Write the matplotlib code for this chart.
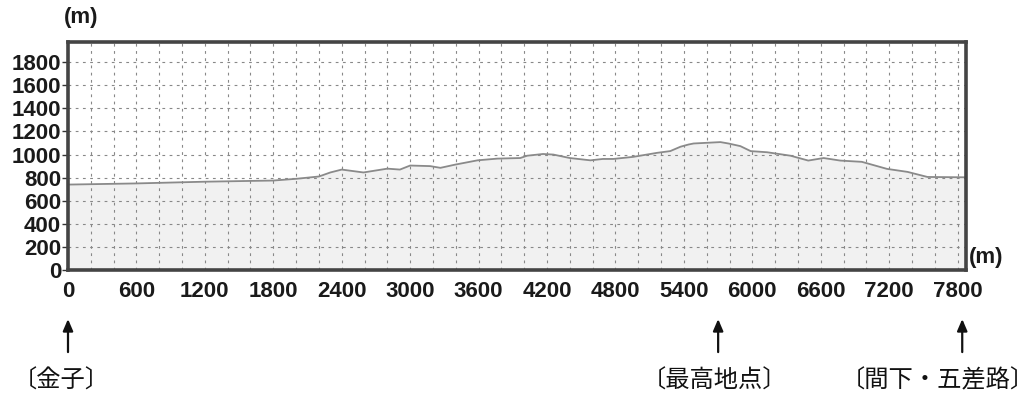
import matplotlib
matplotlib.use("Agg")
import matplotlib.pyplot as plt

# distance along route (m) and elevation (m)
dist = [0, 600, 1200, 1800, 2000, 2200, 2300, 2400, 2590, 2800, 2910, 3000, 3175,
        3265, 3395, 3590, 3765, 3965, 4025, 4165, 4255, 4400, 4580, 4690, 4780,
        4955, 5165, 5280, 5370, 5440, 5485, 5720, 5790, 5895, 5985, 6130, 6335,
        6490, 6625, 6770, 6960, 7180, 7360, 7535, 7870]
elev = [740, 750, 765, 775, 790, 810, 845, 870, 845, 878, 870, 905, 900,
        885, 913, 950, 965, 970, 990, 1005, 1000, 970, 950, 962, 962,
        980, 1015, 1030, 1068, 1087, 1096, 1108, 1096, 1073, 1030, 1020, 990,
        948, 970, 948, 937, 876, 850, 806, 803]

xticks = list(range(0, 7801, 600))
yticks = list(range(0, 1801, 200))
points = [0, 5700, 7840]
point_labels = ["〔金子〕", "〔最高地点〕", "〔間下・五差路〕"]
label_x = [-60, 5670, 7630]

fig = plt.figure(figsize=(10.35, 3.99), dpi=100)
ax = fig.add_axes([0.0657, 0.3233, 0.8673, 0.5714])

ax.fill_between(dist, elev, 0, color="#f1f1f1", zorder=1)
ax.plot(dist, elev, color="#8a8a8a", lw=1.3, zorder=3)

ax.set_xlim(0, 7870)
ax.set_ylim(0, 1975)

for gx in range(200, 7870, 200):
    ax.axvline(gx, color="#888888", lw=0.8, ls=(0, (2.5, 4)), zorder=2)
for gy in range(200, 1975, 200):
    ax.axhline(gy, color="#888888", lw=0.8, ls=(0, (2.5, 4)), zorder=2)

ax.set_xticks(xticks)
ax.set_xticklabels([str(v) for v in xticks])
ax.set_yticks(yticks)
ax.set_yticklabels([str(v) for v in yticks])
ax.tick_params(axis="x", length=0, pad=8)
ax.tick_params(axis="y", length=4, width=1, pad=1, color="#333333")
for lab in ax.get_xticklabels() + ax.get_yticklabels():
    lab.set_fontfamily("Liberation Sans")
    lab.set_fontweight("bold")
    lab.set_fontsize(16)
    lab.set_color("#1a1a1a")

for sp in ax.spines.values():
    sp.set_linewidth(2.6)
    sp.set_color("#444444")
    sp.set_zorder(5)

fig.text(81 / 1035, 1 - 18 / 399, "(m)", ha="center", va="center",
         fontfamily="Liberation Sans", fontweight="bold", fontsize=16, color="#1a1a1a")
fig.text(969 / 1035, 1 - 257 / 399, "(m)", ha="left", va="center",
         fontfamily="Liberation Sans", fontweight="bold", fontsize=16, color="#1a1a1a")

tr = ax.get_xaxis_transform()
for px, lx, lab in zip(points, label_x, point_labels):
    ax.annotate("", xy=(px, -0.215), xytext=(px, -0.36), xycoords=tr, textcoords=tr,
                arrowprops=dict(arrowstyle="-|>,head_length=0.7,head_width=0.3",
                                color="#111111", lw=1.6, shrinkA=0, shrinkB=0),
                annotation_clip=False)
    ax.text(lx, -0.485, lab, transform=tr, ha="center", va="center",
            fontfamily=["Noto Sans CJK JP", "DejaVu Sans"], fontsize=17.5,
            color="#111111", clip_on=False)

fig.savefig("out.png", dpi=100)
